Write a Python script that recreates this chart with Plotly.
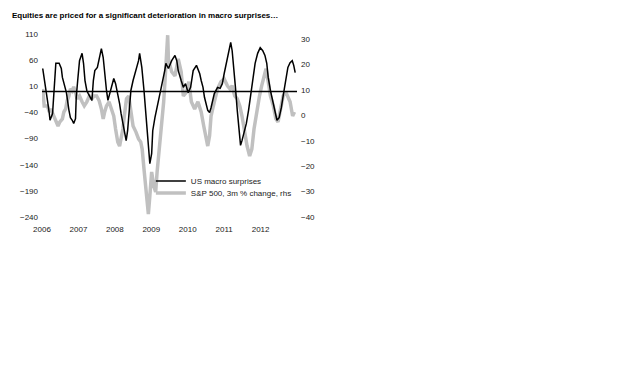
import plotly.graph_objects as go

title_text = "Equities are priced for a significant deterioration in macro surprises…"
macro_name = "US macro surprises"
spx_name = "S&P 500, 3m % change, rhs"

# time positions in decimal years
macro_t = [
    2006.02, 2006.06, 2006.11, 2006.15, 2006.20, 2006.22, 2006.29, 2006.32, 2006.35, 2006.38,
    2006.47, 2006.53, 2006.56, 2006.60, 2006.67, 2006.74, 2006.78, 2006.83, 2006.87, 2006.92,
    2006.94, 2006.98, 2007.03, 2007.10, 2007.14, 2007.18, 2007.23, 2007.27, 2007.32, 2007.37,
    2007.41, 2007.45, 2007.52, 2007.57, 2007.63, 2007.68, 2007.72, 2007.77, 2007.81, 2007.90,
    2007.97, 2008.02, 2008.08, 2008.13, 2008.17, 2008.22, 2008.26, 2008.31, 2008.35, 2008.38,
    2008.44, 2008.50, 2008.58, 2008.65, 2008.68, 2008.74, 2008.80, 2008.85, 2008.89, 2008.93,
    2008.96, 2009.01, 2009.04, 2009.10, 2009.16, 2009.22, 2009.29, 2009.37, 2009.40, 2009.47,
    2009.56, 2009.65, 2009.70, 2009.74, 2009.82, 2009.88, 2009.94, 2010.01, 2010.08, 2010.15,
    2010.24, 2010.33, 2010.37, 2010.42, 2010.46, 2010.50, 2010.55, 2010.60, 2010.64, 2010.73,
    2010.82, 2010.89, 2010.95, 2011.00, 2011.07, 2011.13, 2011.18, 2011.22, 2011.27, 2011.31,
    2011.36, 2011.40, 2011.45, 2011.49, 2011.54, 2011.61, 2011.67, 2011.73, 2011.79, 2011.85,
    2011.92, 2011.99, 2012.06, 2012.12, 2012.17, 2012.21, 2012.27, 2012.33, 2012.39, 2012.45,
    2012.51, 2012.57, 2012.63, 2012.69, 2012.75, 2012.81, 2012.87, 2012.91, 2012.95,
]
macro_values = [
    44, 27, 8, -17, -42, -55, -42, -11, 40, 54,
    54, 44, 27, 15, -2, -36, -50, -55, -61, -52,
    -11, 21, 59, 73, 54, 21, 2, -4, -11, -17,
    21, 40, 46, 65, 82, 65, 34, 2, -17, 8,
    25, 15, -4, -23, -42, -61, -80, -94, -75, -42,
    2, 21, 40, 59, 73, 46, 2, -42, -88, -126,
    -138, -119, -75, -50, -31, -11, 15, 40, 54, 44,
    59, 69, 59, 40, 21, 8, 15, -2, 8, 40,
    50, 34, 21, 8, -11, -23, -36, -40, -31, -4,
    8, 6, 15, 34, 59, 78, 94, 78, 46, 8,
    -36, -69, -103, -94, -80, -61, -36, -4, 21, 54,
    73, 84, 78, 69, 54, 27, 2, -17, -36, -55,
    -50, -31, -4, 21, 46, 55, 59, 50, 36,
]

spx_t = [
    2006.02, 2006.06, 2006.15, 2006.20, 2006.24, 2006.32, 2006.38, 2006.44, 2006.49, 2006.56,
    2006.60, 2006.65, 2006.69, 2006.74, 2006.78, 2006.83, 2006.87, 2006.92, 2006.96, 2007.03,
    2007.10, 2007.16, 2007.23, 2007.30, 2007.37, 2007.43, 2007.50, 2007.57, 2007.63, 2007.68,
    2007.72, 2007.77, 2007.84, 2007.90, 2007.97, 2008.02, 2008.08, 2008.13, 2008.17, 2008.22,
    2008.26, 2008.32, 2008.38, 2008.44, 2008.50, 2008.58, 2008.65, 2008.71, 2008.75, 2008.80,
    2008.85, 2008.89, 2008.92, 2008.96, 2009.01, 2009.07, 2009.12, 2009.16, 2009.22, 2009.28,
    2009.34, 2009.38, 2009.43, 2009.45, 2009.47, 2009.56, 2009.65, 2009.74, 2009.82, 2009.88,
    2009.97, 2010.03, 2010.10, 2010.19, 2010.28, 2010.37, 2010.44, 2010.50, 2010.55, 2010.60,
    2010.64, 2010.73, 2010.82, 2010.91, 2011.00, 2011.09, 2011.16, 2011.22, 2011.29, 2011.36,
    2011.43, 2011.49, 2011.55, 2011.63, 2011.70, 2011.76, 2011.82, 2011.90, 2011.97, 2012.03,
    2012.09, 2012.15, 2012.21, 2012.27, 2012.35, 2012.42, 2012.48, 2012.54, 2012.62, 2012.69,
    2012.75, 2012.81, 2012.88, 2012.93,
]
spx_values = [
    10.4, 3.7, 3.7, 1.3, 2.5, -0.3, -2.6, -4.2, -2.6, -1.4,
    1.3, 2.5, 5.7, 7.6, 10.4, 9.6, 11.2, 9.2, 6.5, 7.6,
    5.3, 3.7, 5.3, 7.6, 6.5, 7.6, 7.6, 5.7, 2.5, -1.4,
    1.3, 3.7, 5.3, 2.5, -0.3, -5.4, -10.5, -12.1, -9.3, -5.4,
    -0.3, 6.5, 7.6, 2.5, -4.2, -6.6, -9.3, -10.5, -13.3, -21.2,
    -29.0, -36.9, -38.9, -31.8, -22.3, -27.9, -30.2, -22.3, -13.3, -5.4,
    5.3, 14.3, 26.2, 31.5, 22.2, 17.1, 15.5, 22.2, 17.1, 7.6,
    9.2, 13.2, 5.3, 2.5, 5.3, 1.3, -4.2, -9.3, -12.1, -8.1,
    -0.3, 5.3, 10.4, 13.2, 14.3, 11.6, 10.4, 11.6, 7.6, 6.5,
    3.7, -0.3, -5.4, -12.1, -16.0, -13.3, -5.4, 2.5, 7.6, 11.6,
    15.5, 18.3, 13.2, 7.6, 3.7, -1.4, -2.6, 1.3, 7.6, 9.2,
    7.6, 5.3, -0.3, 1.3,
]

year_ticks = [2006, 2007, 2008, 2009, 2010, 2011, 2012]
year_labels = ["2006", "2007", "2008", "2009", "2010", "2011", "2012"]

FONT = "Liberation Sans, Arial, sans-serif"

fig = go.Figure()
fig.add_trace(go.Scatter(
    x=macro_t, y=macro_values, name=macro_name, mode="lines",
    line=dict(color="#000000", width=1.5), yaxis="y2", legend="legend",
))
fig.add_trace(go.Scatter(
    x=spx_t, y=spx_values, name=spx_name, mode="lines",
    line=dict(color="#c0c0c0", width=3.5), yaxis="y", legend="legend2",
))

fig.add_shape(type="line", xref="paper", x0=0, x1=1, yref="y2", y0=0, y1=0,
              line=dict(color="#000000", width=1.5), layer="above")

axis_font = dict(family=FONT, size=8, color="#222222")

fig.update_layout(
    width=640, height=373,
    margin=dict(l=29, r=351, t=26, b=164),
    paper_bgcolor="white", plot_bgcolor="white",
    title=dict(text=title_text, xref="container", yref="container",
               x=4 / 640, xanchor="left", y=1 - 7 / 373, yanchor="middle",
               font=dict(family=FONT, size=8, color="#000000", weight="bold")),
    xaxis=dict(range=[2006, 2013],
               tickvals=year_ticks, ticktext=year_labels,
               showgrid=False, zeroline=False, showline=False, ticks="",
               tickfont=axis_font, ticklabelstandoff=6),
    yaxis=dict(side="right", range=[-40, 31.97], tick0=0, dtick=10,
               showgrid=False, zeroline=False, showline=False, ticks="",
               tickfont=axis_font, ticklabelstandoff=3),
    yaxis2=dict(side="left", overlaying="y", range=[-240, 110], tick0=10, dtick=50,
                showgrid=False, zeroline=False, showline=False, ticks="",
                tickfont=axis_font, ticklabelstandoff=3),
    legend=dict(x=(148 - 37) / 260, xanchor="left", y=1 - (181 - 34) / 183, yanchor="middle",
                font=dict(family=FONT, size=8, color="#222222"),
                bgcolor="rgba(0,0,0,0)", borderwidth=0),
    legend2=dict(x=(148 - 37) / 260, xanchor="left", y=1 - (193 - 34) / 183, yanchor="middle",
                 font=dict(family=FONT, size=8, color="#222222"),
                 bgcolor="rgba(0,0,0,0)", borderwidth=0),
    showlegend=True,
)

fig.write_html("out.html")
